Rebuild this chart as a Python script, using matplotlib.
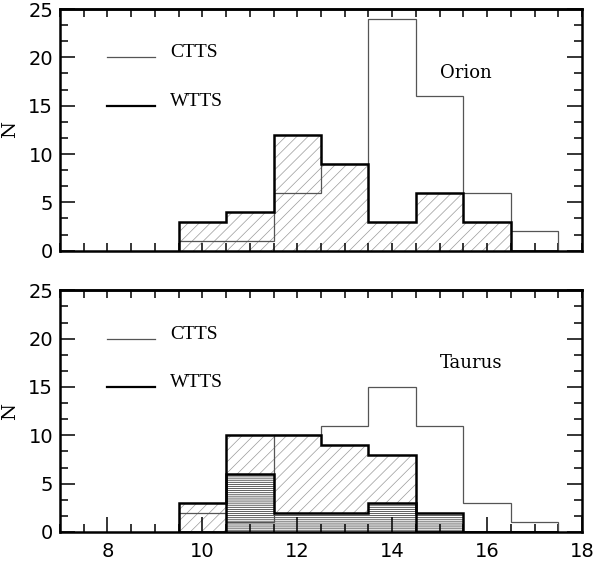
import matplotlib
matplotlib.use("Agg")
import matplotlib.pyplot as plt
from matplotlib.ticker import MultipleLocator

plt.rcParams['hatch.linewidth'] = 0.5

# bin edges (width 1) and counts per bin
edges = [9.5, 10.5, 11.5, 12.5, 13.5, 14.5, 15.5, 16.5, 17.5]

orion_ctts = [1, 1, 6, 9, 24, 16, 6, 2]
orion_wtts = [3, 4, 12, 9, 3, 6, 3, 0]

taurus_ctts = [2, 1, 10, 11, 15, 11, 3, 1]
taurus_wtts = [3, 10, 10, 9, 8, 0, 0, 0]
taurus_wtts_sub = [0, 6, 2, 2, 3, 2, 0, 0]


def style_axes(ax, show_xlabels):
    ax.set_xlim(7, 18)
    ax.set_ylim(0, 25)
    ax.xaxis.set_major_locator(MultipleLocator(2))
    ax.xaxis.set_minor_locator(MultipleLocator(0.5))
    ax.yaxis.set_major_locator(MultipleLocator(5))
    ax.yaxis.set_minor_locator(MultipleLocator(5 / 3))
    ax.tick_params(which='both', direction='in', top=False, right=True, width=1.1)
    ax.tick_params(axis='y', which='major', length=11, pad=5)
    ax.tick_params(axis='y', which='minor', length=5.5)
    ax.tick_params(axis='x', which='major', length=11 if show_xlabels else 5.5, pad=7)
    ax.tick_params(axis='x', which='minor', length=5.5)
    ax.tick_params(labelbottom=show_xlabels)
    for lab in ax.get_xticklabels() + ax.get_yticklabels():
        lab.set_fontfamily('DejaVu Sans')
        lab.set_fontsize(14)
    for sp in ax.spines.values():
        sp.set_linewidth(1.8)
    # top ticks are all short
    sec = ax.secondary_xaxis('top')
    sec.xaxis.set_major_locator(MultipleLocator(0.5))
    sec.tick_params(which='both', direction='in', length=5.5, width=1.1, labeltop=False)
    for sp in sec.spines.values():
        sp.set_linewidth(1.8)
    ax.set_ylabel('N', family='DejaVu Serif', fontsize=14)
    ax.yaxis.set_label_coords(-0.079, 0.5)


def legend_block(ax, name, name_y):
    ax.plot([8, 9], [20, 20], color='#555555', lw=0.9)
    ax.plot([8, 9], [15, 15], color='black', lw=1.6)
    ax.text(9.32, 20, 'CTTS', family='Liberation Serif', fontsize=14, va='baseline')
    ax.text(9.32, 15, 'WTTS', family='Liberation Serif', fontsize=14, va='baseline')
    ax.text(15.0, name_y, name, family='DejaVu Serif', fontsize=13, va='baseline')


fig = plt.figure(figsize=(5.97, 5.61), dpi=100)
ax1 = fig.add_axes([0.1005, 0.5531, 0.8744, 0.4308])
ax2 = fig.add_axes([0.1005, 0.0517, 0.8744, 0.4308])

# Orion
ax1.stairs(orion_wtts, edges, fill=True, facecolor='white', edgecolor='#9a9a9a',
           hatch='///', linewidth=0, zorder=1)
ax1.stairs(orion_ctts, edges, baseline=0, color='#555555', lw=0.9, zorder=2)
ax1.stairs(orion_wtts, edges, baseline=0, color='black', lw=1.8, zorder=3)
style_axes(ax1, False)
legend_block(ax1, 'Orion', 17.9)

# Taurus
ax2.stairs(taurus_wtts, edges, fill=True, facecolor='white', edgecolor='#9a9a9a',
           hatch='///', linewidth=0, zorder=1)
ax2.stairs(taurus_wtts_sub, edges, fill=True, facecolor='white', edgecolor='#222222',
           hatch='--------', linewidth=0, zorder=1.5)
ax2.stairs(taurus_ctts, edges, baseline=0, color='#555555', lw=0.9, zorder=2)
ax2.stairs(taurus_wtts, edges, baseline=0, color='black', lw=1.8, zorder=3)
ax2.stairs(taurus_wtts_sub, edges, baseline=0, color='black', lw=1.8, zorder=3)
style_axes(ax2, True)
legend_block(ax2, 'Taurus', 17.0)

fig.savefig('out.png', dpi=100)
